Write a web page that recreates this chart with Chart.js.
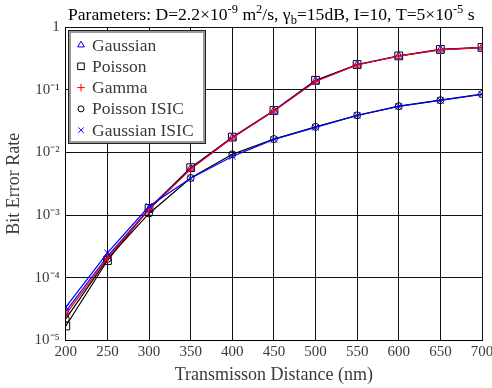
<!DOCTYPE html>
<html lang="en">
<head>
  <meta charset="UTF-8" />
  <title>Bit Error Rate vs Transmission Distance</title>
  <script src="https://cdn.jsdelivr.net/npm/chart.js"></script>
  <style>
    html, body { margin: 0; padding: 0; background: #fff; }
    #wrap { width: 492px; height: 388px; position: relative; }
  </style>
</head>
<body>
  <div id="wrap"><canvas id="chart"></canvas></div>

  <script>
    // data
    const distances = [200, 250, 300, 350, 400, 450, 500, 550, 600, 650, 700];
    const gaussian = [2.9e-5, 2.2e-4, 1.25e-3, 5.5e-3, 0.0172, 0.046, 0.138, 0.25, 0.345, 0.435, 0.47];
    const poisson = [1.7e-5, 1.88e-4, 1.28e-3, 5.7e-3, 0.0175, 0.0465, 0.141, 0.252, 0.346, 0.438, 0.472];
    const gamma = [2.6e-5, 2.05e-4, 1.22e-3, 5.4e-3, 0.017, 0.0455, 0.135, 0.248, 0.343, 0.433, 0.468];
    const poissonIsic = [2.2e-5, 2.0e-4, 1.06e-3, 3.9e-3, 9.3e-3, 0.0163, 0.0255, 0.039, 0.0545, 0.068, 0.085];
    const gaussianIsic = [3.4e-5, 2.5e-4, 1.38e-3, 3.85e-3, 8.6e-3, 0.0161, 0.0251, 0.0387, 0.054, 0.0673, 0.084];

    const yTicks = [1e-5, 1e-4, 1e-3, 1e-2, 1e-1, 1];
    const yTickLabels = ["10\u207B\u2075", "10\u207B\u2074", "10\u207B\u00B3", "10\u207B\u00B2", "10\u207B\u00B9", "1"];

    const SERIF = "'Liberation Serif', 'Times New Roman', serif";
    const TEXT = "#3a3a3a";

    const series = [
      { label: "Gaussian", data: gaussian, color: "#0000ff", style: "triangle", r: 4.5, order: 2 },
      { label: "Poisson", data: poisson, color: "#000000", style: "rect", r: 5.5, order: 4 },
      { label: "Gamma", data: gamma, color: "#ff0000", style: "cross", r: 4.5, order: 1 },
      { label: "Poisson ISIC", data: poissonIsic, color: "#000000", style: "circle", r: 3.5, order: 3 },
      { label: "Gaussian ISIC", data: gaussianIsic, color: "#0000ff", style: "crossRot", r: 4.5, order: 0 }
    ];

    // title with super/subscripts, drawn in pieces
    const titleParts = [
      ["Parameters: D=2.2\u00D710", 0], ["-9", 1], [" m", 0], ["2", 1], ["/s, \u03B3", 0], ["b", -1],
      ["=15dB, I=10, T=5\u00D710", 0], ["-5", 1], [" s", 0]
    ];

    const decorPlugin = {
      id: "decor",
      afterDraw(chart) {
        const ctx = chart.ctx;
        ctx.save();

        // title
        const fs = 17.6, small = 12.5;
        let x = 68, base = 20;
        ctx.fillStyle = "#000";
        ctx.textBaseline = "alphabetic";
        titleParts.forEach(([t, k]) => {
          ctx.font = `${k ? small : fs}px ${SERIF}`;
          const dy = k === 1 ? -7 : (k === -1 ? 4 : 0);
          ctx.fillText(t, x, base + dy);
          x += ctx.measureText(t).width;
        });

        // legend box
        const bx = 68.5, by = 30.5, bw = 137, bh = 113;
        ctx.fillStyle = "#fff";
        ctx.fillRect(bx, by, bw, bh);
        ctx.strokeStyle = "#999";
        ctx.lineWidth = 2;
        ctx.strokeRect(bx + 1.5, by + 1.5, bw - 3, bh - 3);
        ctx.strokeStyle = "#222";
        ctx.lineWidth = 1;
        ctx.strokeRect(bx, by, bw, bh);

        ctx.font = `17.5px ${SERIF}`;
        ctx.textBaseline = "middle";
        series.forEach((s, i) => {
          const ly = 45 + i * 21.3;
          ctx.strokeStyle = s.color;
          ctx.fillStyle = "rgba(0,0,0,0)";
          ctx.lineWidth = 1;
          Chart.helpers.drawPoint(ctx, { pointStyle: s.style, radius: s.r * 0.85, borderWidth: 1 }, 81, ly);
          ctx.fillStyle = TEXT;
          ctx.fillText(s.label, 92, ly + 1);
        });
        ctx.restore();
      }
    };

    new Chart(document.getElementById("chart"), {
      type: "line",
      data: {
        labels: distances,
        datasets: series.map(s => ({
          label: s.label,
          data: s.data.map((v, i) => ({ x: distances[i], y: v })),
          borderColor: s.color,
          backgroundColor: "rgba(0,0,0,0)",
          pointBackgroundColor: "rgba(0,0,0,0)",
          pointBorderColor: s.color,
          pointStyle: s.style,
          pointRadius: s.r,
          pointBorderWidth: 1,
          borderWidth: 1.2,
          tension: 0,
          order: s.order
        }))
      },
      options: {
        responsive: true,
        maintainAspectRatio: false,
        animation: false,
        layout: { padding: { top: 27, right: 10, left: 3, bottom: 2 } },
        plugins: {
          legend: { display: false },
          tooltip: { enabled: false }
        },
        scales: {
          x: {
            type: "linear",
            min: 200,
            max: 700,
            afterFit: scale => { scale.paddingRight = 0; },
            ticks: { stepSize: 50, color: TEXT, font: { family: SERIF, size: 15 }, padding: 3, maxRotation: 0 },
            grid: { color: "#111", lineWidth: 1, drawTicks: false },
            border: { color: "#000", width: 1 },
            title: { display: true, text: "Transmisson Distance (nm)", color: TEXT, font: { family: SERIF, size: 18 }, padding: { top: 0, bottom: 0 } }
          },
          y: {
            type: "logarithmic",
            min: 1e-5,
            max: 1,
            afterBuildTicks: scale => { scale.ticks = yTicks.map(v => ({ value: v })); },
            ticks: {
              color: TEXT,
              font: { family: SERIF, size: 15 },
              padding: 6,
              callback: v => yTickLabels[yTicks.findIndex(t => Math.abs(Math.log10(t) - Math.log10(v)) < 1e-6)] ?? ""
            },
            grid: { color: "#111", lineWidth: 1, drawTicks: false },
            border: { color: "#000", width: 1 },
            title: { display: true, text: "Bit Error Rate", color: TEXT, font: { family: SERIF, size: 18 }, padding: { top: 0, bottom: 4 } }
          }
        }
      },
      plugins: [decorPlugin]
    });
  </script>
</body>
</html>
